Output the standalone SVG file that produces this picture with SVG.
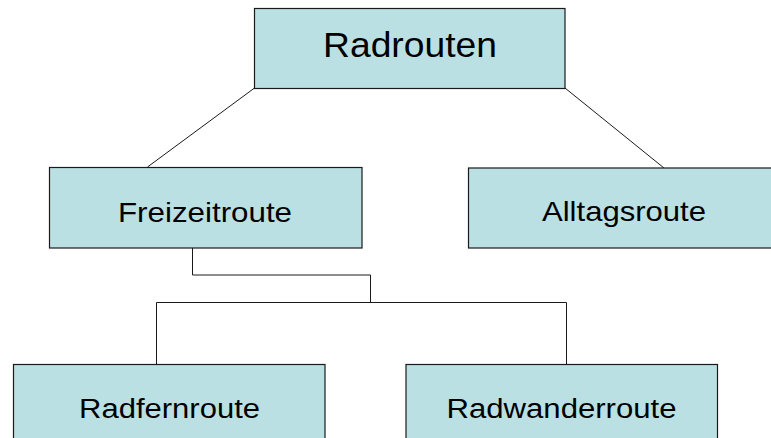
<svg xmlns="http://www.w3.org/2000/svg" width="771" height="438" viewBox="0 0 771 438">
<style>
.box{fill:#BBE0E3;stroke:#1a1a1a;stroke-width:1.2}
.lbl{font-family:"Liberation Sans",Arial,sans-serif;fill:#000;text-anchor:middle}
.conn{fill:none;stroke:#1a1a1a;stroke-width:1}
</style>
<rect width="771" height="438" fill="#fff"/>
<g id="connectors">
<line class="conn" x1="254.5" y1="88" x2="147.5" y2="167"/>
<line class="conn" x1="565" y1="88" x2="664" y2="168"/>
<polyline class="conn" points="192.5,248 192.5,275 370.5,275 370.5,302"/>
<polyline class="conn" points="156.5,364 156.5,302.5 566.5,302.5 566.5,364"/>
</g>
<g id="radrouten">
<rect class="box" x="254.5" y="8.5" width="310.5" height="80"/>
<text class="lbl" x="410" y="57" font-size="35" textLength="174" lengthAdjust="spacingAndGlyphs">Radrouten</text>
</g>
<g id="freizeitroute">
<rect class="box" x="49.5" y="167.5" width="312.5" height="80.5"/>
<text class="lbl" x="205" y="222" font-size="28" textLength="174" lengthAdjust="spacingAndGlyphs">Freizeitroute</text>
</g>
<g id="alltagsroute">
<rect class="box" x="468.5" y="168" width="312" height="80"/>
<text class="lbl" x="624" y="221" font-size="28" textLength="164" lengthAdjust="spacingAndGlyphs">Alltagsroute</text>
</g>
<g id="radfernroute">
<rect class="box" x="13.5" y="364.5" width="311.5" height="80"/>
<text class="lbl" x="169.5" y="418" font-size="27" textLength="181" lengthAdjust="spacingAndGlyphs">Radfernroute</text>
</g>
<g id="radwanderroute">
<rect class="box" x="406" y="364.5" width="311.5" height="80"/>
<text class="lbl" x="561.5" y="418" font-size="27" textLength="230" lengthAdjust="spacingAndGlyphs">Radwanderroute</text>
</g>
</svg>
